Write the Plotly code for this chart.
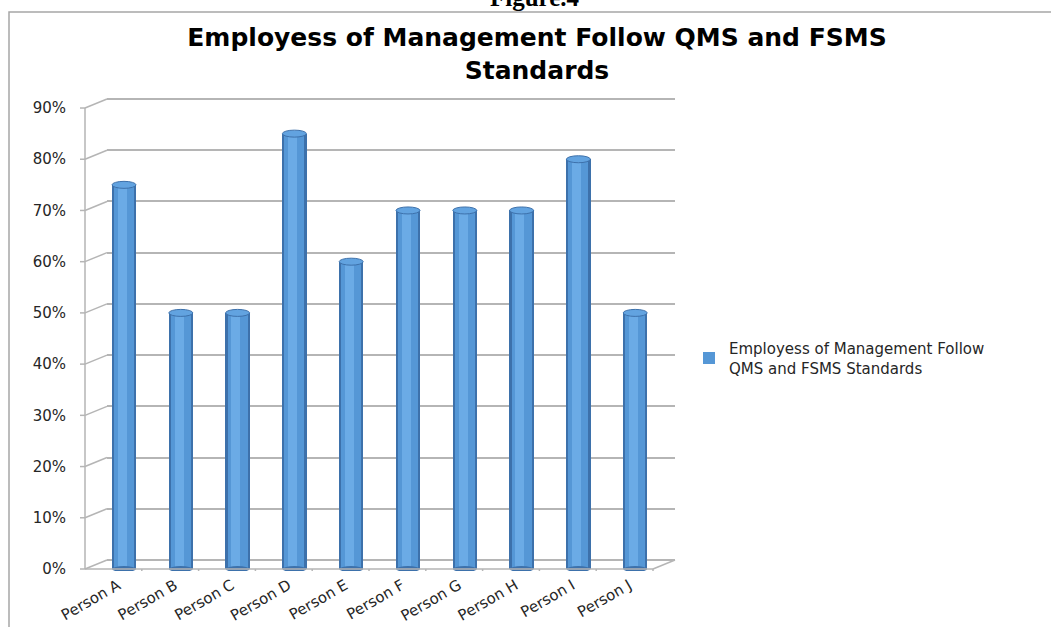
import plotly.graph_objects as go

# ---------------- data ----------------
persons = ["Person A", "Person B", "Person C", "Person D", "Person E",
           "Person F", "Person G", "Person H", "Person I", "Person J"]
values = [0.75, 0.50, 0.50, 0.85, 0.60, 0.70, 0.70, 0.70, 0.80, 0.50]
y_ticks = [0.0, 0.1, 0.2, 0.3, 0.4, 0.5, 0.6, 0.7, 0.8, 0.9]
y_tick_labels = ["0%", "10%", "20%", "30%", "40%", "50%", "60%", "70%", "80%", "90%"]
series_name = "Employess of Management Follow<br>QMS and FSMS Standards"
chart_title = "Employess of Management Follow QMS and FSMS<br>Standards"
figure_label = "Figure.4"

# ---------------- layout geometry (screen pixels) ----------------
W, H = 1051, 627
PL, PR = 107, 675          # back-wall left / right
PT, PB = 98, 571           # plot top / bottom
DEPTH_X, DEPTH_Y = 22, 9   # 3-D depth offset
GRID = "#b5b5b5"
TXT = "#262626"
PPU = 512.2                # pixels per 100 %

def px_x(px):
    return (px - PL) / (PR - PL)

def px_y(py):
    return (PB - py) / (PB - PT)

y_lo = -(PB - 560) / PPU
y_hi = y_lo + (PB - PT) / PPU
y2_shift = DEPTH_Y / PPU
cat_px = 56.8
x_lo = -(124 - PL) / cat_px

fig = go.Figure()

# keeps the back-wall axis (gridlines) alive
fig.add_trace(go.Scatter(x=[persons[0]], y=[y_ticks[0]], mode="markers",
                         marker=dict(opacity=0), showlegend=False, hoverinfo="skip"))

# cylinder body in three layers (edge, body, highlight)
fig.add_trace(go.Bar(x=persons, y=values, yaxis="y2", width=0.43,
                     marker=dict(color="#3d71ab", line=dict(width=0)),
                     showlegend=False, hoverinfo="skip"))
fig.add_trace(go.Bar(x=persons, y=values, yaxis="y2", width=0.35,
                     marker=dict(color="#5597d6", line=dict(width=0)),
                     name=series_name, showlegend=True))
fig.add_trace(go.Bar(x=persons, y=values, yaxis="y2", width=0.16,
                     offset=-0.11,
                     marker=dict(color="#6babe6", line=dict(width=0)),
                     showlegend=False, hoverinfo="skip"))

n = len(persons)
shapes = []
# caps and rounded bottoms of cylinders
for i, v in enumerate(values):
    shapes.append(dict(type="circle", xref="x", yref="y2",
                       xsizemode="pixel", ysizemode="pixel",
                       xanchor=i, yanchor=0, x0=-12, x1=12, y0=-3, y1=3,
                       fillcolor="#3d71ab", line=dict(width=0), layer="above"))
    shapes.append(dict(type="circle", xref="x", yref="y2",
                       xsizemode="pixel", ysizemode="pixel",
                       xanchor=i, yanchor=v, x0=-12, x1=12, y0=-3.5, y1=3.5,
                       fillcolor="#62a3e0", line=dict(width=1, color="#3d71ab"),
                       layer="above"))

# front y-axis line
shapes.append(dict(type="line", xref="paper", yref="y2", xsizemode="pixel",
                   xanchor=0, x0=-DEPTH_X, x1=-DEPTH_X, y0=0, y1=y_ticks[-1],
                   line=dict(color=GRID, width=1.5)))
# diagonal tick joints and small outer ticks
for t in y_ticks:
    shapes.append(dict(type="line", xref="paper", yref="y2",
                       xsizemode="pixel", ysizemode="pixel",
                       xanchor=0, yanchor=t, x0=-DEPTH_X, x1=0, y0=0, y1=DEPTH_Y,
                       line=dict(color=GRID, width=1.5)))
    shapes.append(dict(type="line", xref="paper", yref="y2",
                       xsizemode="pixel", ysizemode="pixel",
                       xanchor=0, yanchor=t, x0=-DEPTH_X - 5, x1=-DEPTH_X, y0=0, y1=0,
                       line=dict(color=GRID, width=1.5)))
# floor front edge and right edge
shapes.append(dict(type="line", xref="paper", yref="y2", xsizemode="pixel",
                   xanchor=0, x0=-DEPTH_X, x1=(PR - PL) - DEPTH_X, y0=0, y1=0,
                   line=dict(color=GRID, width=1.5)))
shapes.append(dict(type="line", xref="paper", yref="y2",
                   xsizemode="pixel", ysizemode="pixel",
                   xanchor=1, yanchor=0, x0=-DEPTH_X, x1=0, y0=0, y1=DEPTH_Y,
                   line=dict(color=GRID, width=1.5)))
# hanging category ticks on floor front edge
for k in range(n + 1):
    shapes.append(dict(type="line", xref="x", yref="y2",
                       xsizemode="pixel", ysizemode="pixel",
                       xanchor=k - 0.5, yanchor=0, x0=-10.6, x1=-10.6, y0=0, y1=-5,
                       line=dict(color=GRID, width=1.5)))
# outer frame of the picture
shapes.append(dict(type="path", xref="paper", yref="paper",
                   path=f"M {px_x(9)},{px_y(660)} L {px_x(9)},{px_y(12)} L {px_x(1080)},{px_y(12)}",
                   line=dict(color="#a6a6a6", width=1.5)))

fig.update_layout(
    width=W, height=H,
    margin=dict(l=PL, r=W - PR, t=PT, b=H - PB, pad=0, autoexpand=False),
    paper_bgcolor="white", plot_bgcolor="white",
    barmode="overlay", bargap=0,
    shapes=shapes,
    title=dict(text=chart_title, x=537 / W, xanchor="center",
               y=1 - 46 / H, yanchor="top", yref="container",
               font=dict(family="DejaVu Sans", size=25, color="black", weight="bold")),
    xaxis=dict(range=[x_lo, x_lo + 10], showgrid=False, zeroline=False,
               showline=False, ticks="", tickangle=-30, ticklabelshift=-6,
               ticklabelstandoff=2, automargin=False,
               tickfont=dict(family="DejaVu Sans", size=15, color=TXT)),
    yaxis=dict(range=[y_lo, y_hi], tickvals=y_ticks, showticklabels=False,
               showgrid=True, gridcolor=GRID, gridwidth=1.5, zeroline=False,
               showline=False, ticks="", automargin=False),
    yaxis2=dict(range=[y_lo + y2_shift, y_hi + y2_shift], overlaying="y", side="left",
                anchor="x", tickvals=y_ticks, ticktext=y_tick_labels,
                showgrid=False, zeroline=False, showline=False, ticks="",
                ticklabelstandoff=40, automargin=False,
                tickfont=dict(family="DejaVu Sans", size=15, color=TXT)),
    legend=dict(x=px_x(689), y=px_y(358), xanchor="left", yanchor="middle",
                font=dict(family="DejaVu Sans", size=15, color=TXT),
                bgcolor="rgba(0,0,0,0)"),
    annotations=[dict(text=figure_label, xref="paper", yref="paper",
                      x=px_x(535), y=px_y(13), xanchor="center", yanchor="bottom",
                      showarrow=False,
                      font=dict(family="Liberation Serif", size=25, color="black",
                                weight="bold"))],
)

fig.write_html("out.html",
               config={"displayModeBar": False},
               post_script="document.body.style.margin='0';")
